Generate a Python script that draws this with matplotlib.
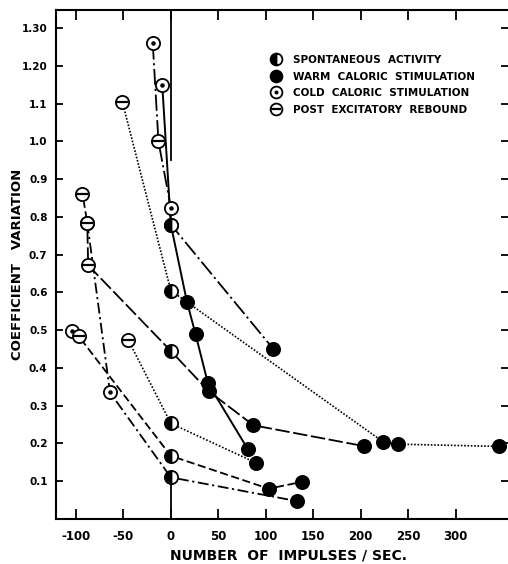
import matplotlib
matplotlib.use("Agg")
import matplotlib.pyplot as plt
from matplotlib.lines import Line2D

plt.rcParams['font.family'] = ['DejaVu Sans']
plt.rcParams['font.weight'] = 'bold'

# one curve per unit; kind of each point: S spontaneous, W warm, C cold, P post excitatory rebound
curve_g_x = [-9, 0, 17, 26, 39, 81]
curve_g_y = [1.15, 0.78, 0.575, 0.49, 0.36, 0.185]
curve_g_k = ['C', 'S', 'W', 'W', 'W', 'W']

curve_h_x = [-19, -13, 0, 0, 108]
curve_h_y = [1.26, 1.0, 0.825, 0.78, 0.45]
curve_h_k = ['C', 'P', 'C', 'S', 'W']

curve_i_x = [-51, 0, 223, 239, 346]
curve_i_y = [1.105, 0.605, 0.205, 0.198, 0.192]
curve_i_k = ['P', 'S', 'W', 'W', 'W']

curve_c_x = [-93, -88, -87, 0, 40, 87, 203]
curve_c_y = [0.862, 0.785, 0.672, 0.445, 0.338, 0.248, 0.193]
curve_c_k = ['P', 'P', 'P', 'S', 'W', 'W', 'W']

curve_d_x = [-88, -64, 0, 133]
curve_d_y = [0.785, 0.335, 0.11, 0.047]
curve_d_k = ['P', 'C', 'S', 'W']

curve_e_x = [-104, -97, 0, 103, 138]
curve_e_y = [0.497, 0.484, 0.167, 0.08, 0.098]
curve_e_k = ['C', 'P', 'S', 'W', 'W']

curve_f_x = [-45, 0, 90]
curve_f_y = [0.475, 0.253, 0.148]
curve_f_k = ['P', 'S', 'W']

zero_line_spans = [(0.0, 0.11), (0.95, 1.35)]

legend_labels = ['SPONTANEOUS  ACTIVITY', 'WARM  CALORIC  STIMULATION',
                 'COLD  CALORIC  STIMULATION', 'POST  EXCITATORY  REBOUND']

x_ticks = [-100, -50, 0, 50, 100, 150, 200, 250, 300]
y_ticks = [0.1, 0.2, 0.3, 0.4, 0.5, 0.6, 0.7, 0.8, 0.9, 1.0, 1.1, 1.2, 1.3]
y_labels = ['0.1', '0.2', '0.3', '0.4', '0.5', '0.6', '0.7', '0.8', '0.9',
            '1.0', '1.1', '1.20', '1.30']

MS = 9.5
MEW = 1.3


def marker_style(kind, ms=MS):
    # returns list of kwargs to overlay for one marker kind
    base = dict(marker='o', ms=ms, mec='black', mew=MEW, ls='none')
    if kind == 'W':
        return [dict(base, mfc='black')]
    if kind == 'S':
        return [dict(base, mfc='black', fillstyle='left', markerfacecoloralt='white')]
    if kind == 'C':
        return [dict(base, mfc='white'),
                dict(marker='o', ms=ms * 0.34, mfc='black', mec='black', mew=0, ls='none')]
    return [dict(base, mfc='white'),
            dict(marker='_', ms=ms - 1, mec='black', mew=MEW + 0.3, ls='none')]


fig = plt.figure(figsize=(5.08, 5.64), dpi=100)
ax = fig.add_axes([0.110, 0.080, 0.890, 0.902])

curves = [
    (curve_g_x, curve_g_y, curve_g_k, '-', 1.4),
    (curve_h_x, curve_h_y, curve_h_k, (0, (9, 2, 1.2, 2)), 1.3),
    (curve_i_x, curve_i_y, curve_i_k, (0, (1, 1)), 1.2),
    (curve_c_x, curve_c_y, curve_c_k, (0, (8, 2)), 1.3),
    (curve_d_x, curve_d_y, curve_d_k, (0, (6, 2, 1.2, 2)), 1.3),
    (curve_e_x, curve_e_y, curve_e_k, (0, (4.5, 2)), 1.3),
    (curve_f_x, curve_f_y, curve_f_k, (0, (1, 1.1)), 1.2),
]

for xs, ys, ks, ls, lw in curves:
    ax.plot(xs, ys, color='black', ls=ls, lw=lw, zorder=2)
    for x, y, k in zip(xs, ys, ks):
        for st in marker_style(k):
            ax.plot([x], [y], zorder=3, **st)

for y0, y1 in zero_line_spans:
    ax.plot([0, 0], [y0, y1], color='black', lw=1.3, zorder=1)

# legend
handles = []
for k in ['S', 'W', 'C', 'P']:
    parts = tuple(Line2D([], [], **st) for st in marker_style(k, ms=8.5))
    handles.append(parts)
ax.legend(handles, legend_labels, loc='upper left', bbox_to_anchor=(0.455, 0.93),
          frameon=False, handlelength=1.0, handletextpad=1.1, labelspacing=0.62,
          prop=dict(weight='bold', size=7.5))

ax.set_xlim(-121, 355)
ax.set_ylim(0, 1.348)
ax.set_xticks(x_ticks)
ax.set_xticklabels([str(t) for t in x_ticks])
ax.set_yticks(y_ticks)
ax.set_yticklabels(y_labels)
ax.tick_params(axis='x', direction='in', length=7, width=1.3, top=True, labelsize=8.5, pad=8)
ax.tick_params(axis='y', direction='in', length=5, width=1.3, right=True, labelsize=7.5, pad=6)
for s in ['left', 'bottom', 'top']:
    ax.spines[s].set_linewidth(1.5)
ax.spines['right'].set_visible(False)

ax.set_xlabel('NUMBER  OF  IMPULSES / SEC.', fontsize=10, fontweight='bold')
ax.xaxis.set_label_coords(0.515, -0.058)
ax.set_ylabel('COEFFICIENT   VARIATION', fontsize=9.5, fontweight='bold')
ax.yaxis.set_label_coords(-0.07, 0.5)

fig.savefig('out.png', dpi=100)
